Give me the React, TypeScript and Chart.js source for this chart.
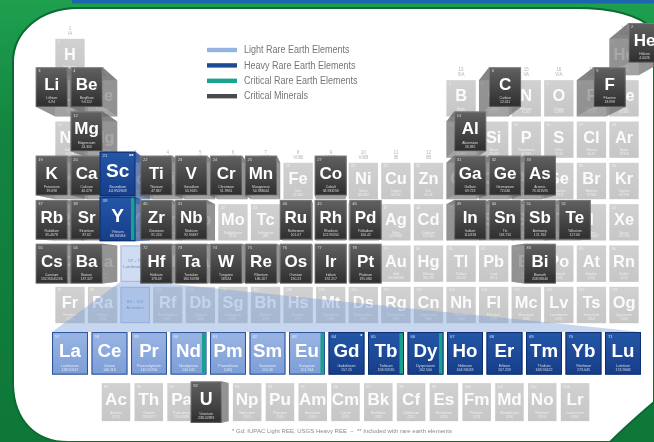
import React, { useEffect, useRef } from "react";
import { Chart, registerables } from "chart.js";

Chart.register(...registerables);

// ---------- DATA ----------
// [symbol, name, atomic number, atomic mass, period, group, kind]
// kind: "o" other element, "m" critical mineral, "h" heavy REE, "hc" heavy REE + critical REE, "s" series placeholder
const MAIN_TABLE: any[] = [
  ["H", "Hydrogen", "1", "1.008", 1, 1, "o"],
  ["He", "Helium", "2", "4.0026", 1, 18, "m"],
  ["Li", "Lithium", "3", "6.94", 2, 1, "m"],
  ["Be", "Beryllium", "4", "9.0122", 2, 2, "m"],
  ["B", "Boron", "5", "10.81", 2, 13, "o"],
  ["C", "Carbon", "6", "12.011", 2, 14, "m"],
  ["N", "Nitrogen", "7", "14.007", 2, 15, "o"],
  ["O", "Oxygen", "8", "15.999", 2, 16, "o"],
  ["F", "Fluorine", "9", "18.998", 2, 17, "m"],
  ["Ne", "Neon", "10", "20.180", 2, 18, "o"],
  ["Na", "Sodium", "11", "22.990", 3, 1, "o"],
  ["Mg", "Magnesium", "12", "24.305", 3, 2, "m"],
  ["Al", "Aluminium", "13", "26.982", 3, 13, "m"],
  ["Si", "Silicon", "14", "28.085", 3, 14, "o"],
  ["P", "Phosphorus", "15", "30.974", 3, 15, "o"],
  ["S", "Sulfur", "16", "32.06", 3, 16, "o"],
  ["Cl", "Chlorine", "17", "35.45", 3, 17, "o"],
  ["Ar", "Argon", "18", "39.948", 3, 18, "o"],
  ["K", "Potassium", "19", "39.098", 4, 1, "m"],
  ["Ca", "Calcium", "20", "40.078", 4, 2, "m"],
  ["Sc", "Scandium", "21", "44.955908", 4, 3, "h"],
  ["Ti", "Titanium", "22", "47.867", 4, 4, "m"],
  ["V", "Vanadium", "23", "50.9415", 4, 5, "m"],
  ["Cr", "Chromium", "24", "51.9961", 4, 6, "m"],
  ["Mn", "Manganese", "25", "54.938044", 4, 7, "m"],
  ["Fe", "Iron", "26", "55.845", 4, 8, "o"],
  ["Co", "Cobalt", "27", "58.933194", 4, 9, "m"],
  ["Ni", "Nickel", "28", "58.6934", 4, 10, "o"],
  ["Cu", "Copper", "29", "63.546", 4, 11, "o"],
  ["Zn", "Zinc", "30", "65.38", 4, 12, "o"],
  ["Ga", "Gallium", "31", "69.723", 4, 13, "m"],
  ["Ge", "Germanium", "32", "72.630", 4, 14, "m"],
  ["As", "Arsenic", "33", "74.921595", 4, 15, "m"],
  ["Se", "Selenium", "34", "78.971", 4, 16, "o"],
  ["Br", "Bromine", "35", "79.904", 4, 17, "o"],
  ["Kr", "Krypton", "36", "83.798", 4, 18, "o"],
  ["Rb", "Rubidium", "37", "85.4678", 5, 1, "m"],
  ["Sr", "Strontium", "38", "87.62", 5, 2, "m"],
  ["Y", "Yttrium", "39", "88.90584", 5, 3, "hc"],
  ["Zr", "Zirconium", "40", "91.224", 5, 4, "m"],
  ["Nb", "Niobium", "41", "92.90637", 5, 5, "m"],
  ["Mo", "Molybdenum", "42", "95.95", 5, 6, "o"],
  ["Tc", "Technetium", "43", "(98)", 5, 7, "o"],
  ["Ru", "Ruthenium", "44", "101.07", 5, 8, "m"],
  ["Rh", "Rhodium", "45", "102.90550", 5, 9, "m"],
  ["Pd", "Palladium", "46", "106.42", 5, 10, "m"],
  ["Ag", "Silver", "47", "107.8682", 5, 11, "o"],
  ["Cd", "Cadmium", "48", "112.414", 5, 12, "o"],
  ["In", "Indium", "49", "114.818", 5, 13, "m"],
  ["Sn", "Tin", "50", "118.710", 5, 14, "m"],
  ["Sb", "Antimony", "51", "121.760", 5, 15, "m"],
  ["Te", "Tellurium", "52", "127.60", 5, 16, "m"],
  ["I", "Iodine", "53", "126.90447", 5, 17, "o"],
  ["Xe", "Xenon", "54", "131.293", 5, 18, "o"],
  ["Cs", "Caesium", "55", "132.90545196", 6, 1, "m"],
  ["Ba", "Barium", "56", "137.327", 6, 2, "m"],
  ["57 - 71", "Lanthanides", "", "", 6, 3, "s"],
  ["Hf", "Hafnium", "72", "178.49", 6, 4, "m"],
  ["Ta", "Tantalum", "73", "180.94788", 6, 5, "m"],
  ["W", "Tungsten", "74", "183.84", 6, 6, "m"],
  ["Re", "Rhenium", "75", "186.207", 6, 7, "m"],
  ["Os", "Osmium", "76", "190.23", 6, 8, "m"],
  ["Ir", "Iridium", "77", "192.217", 6, 9, "m"],
  ["Pt", "Platinum", "78", "195.084", 6, 10, "m"],
  ["Au", "Gold", "79", "196.966569", 6, 11, "o"],
  ["Hg", "Mercury", "80", "200.592", 6, 12, "o"],
  ["Tl", "Thallium", "81", "204.38", 6, 13, "o"],
  ["Pb", "Lead", "82", "207.2", 6, 14, "o"],
  ["Bi", "Bismuth", "83", "208.98040", 6, 15, "m"],
  ["Po", "Polonium", "84", "(209)", 6, 16, "o"],
  ["At", "Astatine", "85", "(210)", 6, 17, "o"],
  ["Rn", "Radon", "86", "(222)", 6, 18, "o"],
  ["Fr", "Francium", "87", "(223)", 7, 1, "o"],
  ["Ra", "Radium", "88", "(226)", 7, 2, "o"],
  ["89 - 103", "Actinides", "", "", 7, 3, "s"],
  ["Rf", "Rutherfordium", "104", "(267)", 7, 4, "o"],
  ["Db", "Dubnium", "105", "(268)", 7, 5, "o"],
  ["Sg", "Seaborgium", "106", "(269)", 7, 6, "o"],
  ["Bh", "Bohrium", "107", "(270)", 7, 7, "o"],
  ["Hs", "Hassium", "108", "(277)", 7, 8, "o"],
  ["Mt", "Meitnerium", "109", "(278)", 7, 9, "o"],
  ["Ds", "Darmstadtium", "110", "(281)", 7, 10, "o"],
  ["Rg", "Roentgenium", "111", "(282)", 7, 11, "o"],
  ["Cn", "Copernicium", "112", "(285)", 7, 12, "o"],
  ["Nh", "Nihonium", "113", "(286)", 7, 13, "o"],
  ["Fl", "Flerovium", "114", "(289)", 7, 14, "o"],
  ["Mc", "Moscovium", "115", "(290)", 7, 15, "o"],
  ["Lv", "Livermorium", "116", "(293)", 7, 16, "o"],
  ["Ts", "Tennessine", "117", "(294)", 7, 17, "o"],
  ["Og", "Oganesson", "118", "(294)", 7, 18, "o"],
];

// [symbol, name, atomic number, atomic mass, kind]  kind: "l" light, "lc" light+critical, "h" heavy, "hc" heavy+critical
const LANTHANIDES: any[] = [
  ["La", "Lanthanum", "57", "138.90547", "l"],
  ["Ce", "Cerium", "58", "140.116", "l"],
  ["Pr", "Praseodymium", "59", "140.90766", "l"],
  ["Nd", "Neodymium", "60", "144.242", "lc"],
  ["Pm", "Promethium", "61", "(145)", "l"],
  ["Sm", "Samarium", "62", "150.36", "l"],
  ["Eu", "Europium", "63", "151.964", "lc"],
  ["Gd", "Gadolinium", "64", "157.25", "h"],
  ["Tb", "Terbium", "65", "158.92535", "hc"],
  ["Dy", "Dysprosium", "66", "162.500", "hc"],
  ["Ho", "Holmium", "67", "164.93033", "h"],
  ["Er", "Erbium", "68", "167.259", "h"],
  ["Tm", "Thulium", "69", "168.93422", "h"],
  ["Yb", "Ytterbium", "70", "173.045", "h"],
  ["Lu", "Lutetium", "71", "174.9668", "h"],
];

// [symbol, name, atomic number, atomic mass, kind]
const ACTINIDES: any[] = [
  ["Ac", "Actinium", "89", "(227)", "o"],
  ["Th", "Thorium", "90", "232.0377", "o"],
  ["Pa", "Protactinium", "91", "231.03588", "o"],
  ["U", "Uranium", "92", "238.02891", "m"],
  ["Np", "Neptunium", "93", "(237)", "o"],
  ["Pu", "Plutonium", "94", "(244)", "o"],
  ["Am", "Americium", "95", "(243)", "o"],
  ["Cm", "Curium", "96", "(247)", "o"],
  ["Bk", "Berkelium", "97", "(247)", "o"],
  ["Cf", "Californium", "98", "(251)", "o"],
  ["Es", "Einsteinium", "99", "(252)", "o"],
  ["Fm", "Fermium", "100", "(257)", "o"],
  ["Md", "Mendelevium", "101", "(258)", "o"],
  ["No", "Nobelium", "102", "(259)", "o"],
  ["Lr", "Lawrencium", "103", "(266)", "o"],
];

const NOTES: Record<string, string> = { Sc: "**", Gd: "*" };

const GROUP_LABELS = [
  "1|IA", "2|IIA", "3|IIIB", "4|IVB", "5|VB", "6|VIB", "7|VIIB", "8|VIIIB", "9|VIIIB",
  "10|VIIIB", "11|IB", "12|IIB", "13|IIIA", "14|IVA", "15|VA", "16|VIA", "17|VIIA", "18|VIIIA",
];

const LEGEND_LABELS = [
  "Light Rare Earth Elements",
  "Heavy Rare Earth Elements",
  "Critical Rare Earth Elements",
  "Critical Minerals",
];
const LEGEND_COLORS = ["#93b3e0", "#1d4a95", "#19a48f", "#4a4a4a"];

const FOOTNOTE = "* Gd: IUPAC Light REE; USGS Heavy REE  –  ** Included with rare earth elements";

// f-block rows are drawn below the main table
const LANTH_ROW = 8.17;
const ACT_ROW = 9.35;

// ---------- STYLE ----------
const FONT = '"Liberation Sans", Arial, sans-serif';
const NARROW = '"Liberation Sans Narrow", "Liberation Sans", sans-serif';
const TEAL = "#17a28e";
const VP_COL = 9;
const VP_ROW = 5.9;

function poly(ctx: CanvasRenderingContext2D, pts: number[][], fill: string) {
  ctx.beginPath();
  ctx.moveTo(pts[0][0], pts[0][1]);
  for (let i = 1; i < pts.length; i++) ctx.lineTo(pts[i][0], pts[i][1]);
  ctx.closePath();
  ctx.fillStyle = fill;
  ctx.fill();
}

function cellText(
  ctx: CanvasRenderingContext2D, x0: number, y0: number, w: number, h: number,
  e: any[], symColor: string, small: string, symScale: number
) {
  ctx.save();
  ctx.fillStyle = small;
  ctx.textAlign = "left";
  ctx.textBaseline = "top";
  ctx.font = `${(h * 0.1).toFixed(1)}px ${FONT}`;
  ctx.fillText(e[2], x0 + w * 0.08, y0 + h * 0.05);
  ctx.fillStyle = symColor;
  ctx.textAlign = "center";
  ctx.textBaseline = "middle";
  ctx.font = `bold ${(h * symScale).toFixed(1)}px ${FONT}`;
  ctx.fillText(e[0], x0 + w / 2, y0 + h * 0.46, w * 0.96);
  ctx.fillStyle = small;
  ctx.font = `${(h * 0.085).toFixed(1)}px ${FONT}`;
  ctx.fillText(e[1], x0 + w / 2, y0 + h * 0.79, w * 0.9);
  ctx.fillText(e[3], x0 + w / 2, y0 + h * 0.89, w * 0.9);
  const note = NOTES[e[0]];
  if (note) {
    ctx.fillStyle = symColor;
    ctx.textAlign = "right";
    ctx.textBaseline = "top";
    ctx.font = `bold ${(h * 0.13).toFixed(1)}px ${FONT}`;
    ctx.fillText(note, x0 + w - 2, y0 + 2);
  }
  ctx.restore();
}

function greyCell(ctx: CanvasRenderingContext2D, cx: number, cy: number, w: number, h: number, e: any[]) {
  const x0 = cx - w / 2, y0 = cy - h / 2;
  const g = ctx.createLinearGradient(0, y0, 0, y0 + h);
  g.addColorStop(0, "#d1d1d1");
  g.addColorStop(1, "#c6c6c6");
  ctx.fillStyle = g;
  ctx.fillRect(x0, y0, w, h);
  cellText(ctx, x0, y0, w, h, e, "rgba(255,255,255,0.92)", "rgba(255,255,255,0.7)", 0.45);
}

function seriesCell(ctx: CanvasRenderingContext2D, cx: number, cy: number, w: number, h: number, e: any[]) {
  const x0 = cx - w / 2, y0 = cy - h / 2;
  ctx.fillStyle = "#cfdcf1";
  ctx.fillRect(x0, y0, w, h);
  ctx.strokeStyle = "#a3b9df";
  ctx.lineWidth = 1;
  ctx.strokeRect(x0 + 0.5, y0 + 0.5, w - 1, h - 1);
  ctx.fillStyle = "#6f8fc6";
  ctx.textAlign = "center";
  ctx.textBaseline = "middle";
  ctx.font = `${(h * 0.12).toFixed(1)}px ${FONT}`;
  ctx.fillText(e[0], cx, y0 + h * 0.42);
  ctx.fillText(e[1], cx, y0 + h * 0.58);
}

function frontCell(ctx: CanvasRenderingContext2D, x0: number, y0: number, w: number, h: number, e: any[], kind: string, symScale: number) {
  const g = ctx.createLinearGradient(0, y0, 0, y0 + h);
  let border = "rgba(255,255,255,0.18)";
  if (kind === "m") {
    g.addColorStop(0, "#616161");
    g.addColorStop(1, "#2e2e2e");
  } else if (kind === "h" || kind === "hc") {
    g.addColorStop(0, "#2457a8");
    g.addColorStop(1, "#163d88");
    border = "#0e2f70";
  } else {
    g.addColorStop(0, "#9ab5e4");
    g.addColorStop(1, "#7c9dd6");
    border = "#2c529b";
  }
  ctx.fillStyle = g;
  ctx.fillRect(x0, y0, w, h);
  ctx.strokeStyle = border;
  ctx.lineWidth = 1;
  ctx.strokeRect(x0 + 0.5, y0 + 0.5, w - 1, h - 1);
  if (kind === "hc" || kind === "lc") {
    ctx.fillStyle = TEAL;
    ctx.fillRect(x0 + w - 4.5, y0 + 1, 3.5, h - 2);
  }
  cellText(ctx, x0, y0, w, h, e, "#ffffff", "rgba(255,255,255,0.78)", symScale);
}

function poppedCell(
  ctx: CanvasRenderingContext2D, cx: number, cy: number, w: number, h: number,
  e: any[], kind: string, vx: number, vy: number
) {
  const ree = kind !== "m";
  const k = ree ? 1.09 : 1.07;
  const s = ree ? 1.22 : 1.09;
  const fcx = vx + (cx - vx) * k;
  const fcy = cy + Math.min(0, (cy - vy) * (k - 1));
  const fw = w * s, fh = h * s;
  const b = { l: cx - w / 2, r: cx + w / 2, t: cy - h / 2, b: cy + h / 2 };
  const f = { l: fcx - fw / 2, r: fcx + fw / 2, t: fcy - fh / 2, b: fcy + fh / 2 };
  const side = ree ? "rgba(40,80,160,0.62)" : "rgba(100,100,100,0.55)";
  const bottom = ree ? "rgba(60,100,175,0.55)" : "rgba(125,125,125,0.5)";
  const left = [[b.l, b.t], [b.l, b.b], [f.l, f.b], [f.l, f.t]];
  const right = [[b.r, b.t], [b.r, b.b], [f.r, f.b], [f.r, f.t]];
  const top = [[b.l, b.t], [b.r, b.t], [f.r, f.t], [f.l, f.t]];
  const bot = [[b.l, b.b], [b.r, b.b], [f.r, f.b], [f.l, f.b]];
  const dx = fcx - cx;
  if (dx < 0) { poly(ctx, left, side); } else { poly(ctx, right, side); }
  poly(ctx, top, side);
  if (dx < 0) { poly(ctx, right, side); } else { poly(ctx, left, side); }
  poly(ctx, bot, bottom);
  frontCell(ctx, f.l, f.t, fw, fh, e, kind, 0.43);
}

function drawBackground(ctx: CanvasRenderingContext2D, W: number, H: number) {
  const g = ctx.createLinearGradient(0, 0, 0, H);
  g.addColorStop(0, "#1ea04f");
  g.addColorStop(0.3, "#138540");
  g.addColorStop(1, "#0e7738");
  ctx.fillStyle = g;
  ctx.fillRect(0, 0, W, H);
  ctx.fillStyle = "#1b66ad";
  ctx.fillRect(72, 0, W - 72, 3.5);
  ctx.beginPath();
  ctx.moveTo(13, 62);
  ctx.bezierCurveTo(13, 32, 40, 8, 78, 8);
  ctx.lineTo(575, 8);
  ctx.bezierCurveTo(615, 8, 640, 15, 654, 30);
  ctx.lineTo(654, 402);
  ctx.bezierCurveTo(640, 414, 622, 430, 610, 442);
  ctx.lineTo(68, 442);
  ctx.bezierCurveTo(35, 442, 14, 420, 13, 385);
  ctx.closePath();
  ctx.fillStyle = "#ffffff";
  ctx.fill();
  ctx.strokeStyle = "#0b6a31";
  ctx.lineWidth = 2;
  ctx.stroke();
}

const tablePlugin = {
  id: "periodicTable",
  beforeDraw(chart: any) {
    drawBackground(chart.ctx, chart.width, chart.height);
  },
  afterDatasetsDraw(chart: any) {
    const ctx: CanvasRenderingContext2D = chart.ctx;
    const xs = chart.scales.x, xl = chart.scales.xl, xa = chart.scales.xa, ys = chart.scales.y;
    const colPx = xs.getPixelForValue(2) - xs.getPixelForValue(1);
    const rowPx = Math.abs(ys.getPixelForValue(2) - ys.getPixelForValue(1));
    const w = colPx * 0.9, h = rowPx * 0.88;
    const lw = (xl.getPixelForValue(1) - xl.getPixelForValue(0)) * 0.91, lh = rowPx * 1.03;
    const aw = (xa.getPixelForValue(1) - xa.getPixelForValue(0)) * 0.87, ah = rowPx * 0.92;
    const vx = xs.getPixelForValue(VP_COL), vy = ys.getPixelForValue(VP_ROW);
    const main = chart.getDatasetMeta(0).data;
    const lan = chart.getDatasetMeta(1).data;
    const act = chart.getDatasetMeta(2).data;

    // legend
    ctx.save();
    LEGEND_LABELS.forEach((lab, i) => {
      const y = 50 + i * 15.4;
      ctx.fillStyle = LEGEND_COLORS[i];
      ctx.fillRect(207, y - 2.2, 30, 4.4);
      ctx.save();
      ctx.translate(244, y + 0.5);
      ctx.scale(0.9, 1);
      ctx.fillStyle = "#767676";
      ctx.font = `10px ${NARROW}`;
      ctx.textAlign = "left";
      ctx.textBaseline = "middle";
      ctx.fillText(lab, 0, 0);
      ctx.restore();
    });
    // footnote
    ctx.fillStyle = "#8a8a8a";
    ctx.font = `6px ${NARROW}`;
    ctx.textAlign = "left";
    ctx.textBaseline = "middle";
    ctx.fillText(FOOTNOTE, 232, 431);

    // group labels
    GROUP_LABELS.forEach((lab, i) => {
      const g = i + 1;
      const period = g === 1 || g === 18 ? 1 : g === 2 || g >= 13 ? 2 : 4;
      const x = xs.getPixelForValue(g);
      const top = ys.getPixelForValue(period) - h / 2;
      const [a, b] = lab.split("|");
      ctx.fillStyle = "#b4b4b4";
      ctx.font = `4.5px ${FONT}`;
      ctx.textAlign = "center";
      ctx.textBaseline = "middle";
      ctx.fillText(a, x, top - 10);
      ctx.fillText(b, x, top - 5);
    });

    // slots of the main table
    MAIN_TABLE.forEach((e, i) => {
      const p = main[i];
      if (e[6] === "s") seriesCell(ctx, p.x, p.y, w, h, e);
      else greyCell(ctx, p.x, p.y, w, h, e);
    });
    ACTINIDES.forEach((e, i) => {
      const p = act[i];
      greyCell(ctx, p.x, p.y, aw, ah, e);
    });

    // wedge from the lanthanide slot to the lanthanide row
    const si = MAIN_TABLE.findIndex((e) => e[0] === "57 - 71");
    const sp = main[si];
    const la = lan[0], lu = lan[lan.length - 1];
    poly(ctx, [
      [sp.x - w / 2, sp.y + h / 2],
      [sp.x + w / 2, sp.y + h / 2],
      [lu.x + lw / 2, lu.y - lh / 2],
      [la.x - lw / 2, la.y - lh / 2],
    ], "rgba(128,163,220,0.45)");

    // lanthanide row
    LANTHANIDES.forEach((e, i) => {
      const p = lan[i];
      frontCell(ctx, p.x - lw / 2, p.y - lh / 2, lw, lh, e, e[4], 0.44);
    });

    // popped-out highlighted cells, furthest from the vanishing point first
    const pops: any[] = [];
    MAIN_TABLE.forEach((e, i) => {
      if (e[6] === "m" || e[6] === "h" || e[6] === "hc") pops.push({ e, kind: e[6], x: main[i].x, y: main[i].y, w, h });
    });
    ACTINIDES.forEach((e, i) => {
      if (e[4] === "m") pops.push({ e, kind: "m", x: act[i].x, y: act[i].y, w: aw, h: ah });
    });
    pops.sort((a, b) => Math.hypot(b.x - vx, b.y - vy) - Math.hypot(a.x - vx, a.y - vy));
    pops.forEach((p) => poppedCell(ctx, p.x, p.y, p.w, p.h, p.e, p.kind, vx, vy));
    ctx.restore();
  },
};

export default function App() {
  const ref = useRef<HTMLCanvasElement>(null);
  useEffect(() => {
    const chart = new Chart(ref.current as HTMLCanvasElement, {
      type: "scatter",
      data: {
        datasets: [
          {
            label: "Main table",
            data: MAIN_TABLE.map((e) => ({ x: e[5], y: e[4] })),
            xAxisID: "x",
            yAxisID: "y",
            pointRadius: 0,
          },
          {
            label: "Lanthanides",
            data: LANTHANIDES.map((_, i) => ({ x: i, y: LANTH_ROW })),
            xAxisID: "xl",
            yAxisID: "y",
            pointRadius: 0,
          },
          {
            label: "Actinides",
            data: ACTINIDES.map((_, i) => ({ x: i, y: ACT_ROW })),
            xAxisID: "xa",
            yAxisID: "y",
            pointRadius: 0,
          },
        ],
      },
      options: {
        animation: false,
        responsive: false,
        devicePixelRatio: 1,
        events: [],
        layout: { padding: 0, autoPadding: false },
        plugins: { legend: { display: false }, tooltip: { enabled: false }, title: { display: false } },
        scales: {
          x: { type: "linear", min: -1.148, max: 18.92, display: false },
          xl: { type: "linear", axis: "x", position: "bottom", min: -1.772, max: 14.785, display: false },
          xa: { type: "linear", axis: "x", position: "bottom", min: -3.538, max: 16.408, display: false },
          y: { type: "linear", min: -0.379, max: 10.315, reverse: true, display: false },
        },
      } as any,
      plugins: [tablePlugin],
    });
    return () => chart.destroy();
  }, []);
  return (
    <div style={{ position: "fixed", left: 0, top: 0, width: 654, height: 442, background: "#fff" }}>
      <canvas ref={ref} width={654} height={442} style={{ display: "block", width: 654, height: 442 }} />
    </div>
  );
}
